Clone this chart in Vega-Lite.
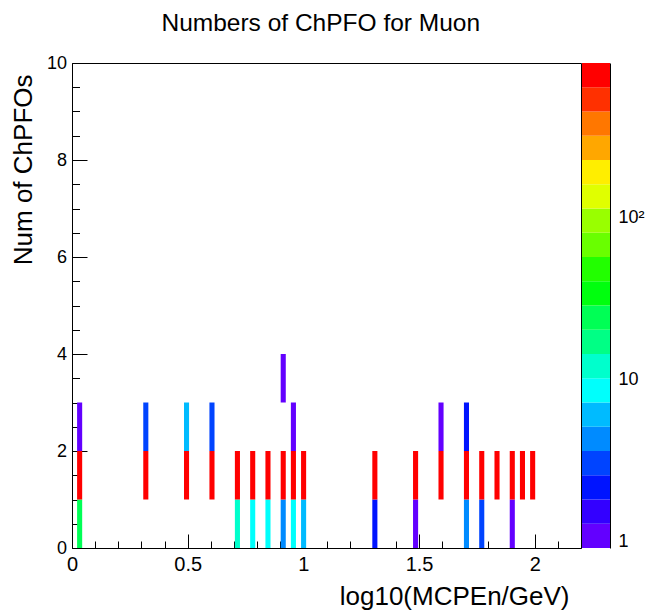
{
  "$schema": "https://vega.github.io/schema/vega-lite/v6.json",
  "padding": {"left": 9, "top": 11, "right": 0, "bottom": 0},
  "background": "white",
  "bounds": "flush",
  "spacing": 1,
  "config": {
    "font": "Liberation Sans",
    "view": {"stroke": "black", "strokeWidth": 1},
    "axis": {"grid": false, "domainColor": "black", "tickColor": "black", "labelColor": "black", "titleColor": "black", "labelFont": "Liberation Sans", "titleFont": "Liberation Sans", "titleFontWeight": "normal", "zindex": 1, "labelFlush": false, "labelOverlap": false}
  },
  "title": {"text": "Numbers of ChPFO for Muon", "font": "Liberation Sans", "fontSize": 24.5, "fontWeight": "normal", "color": "black", "anchor": "middle", "offset": 17, "dx": -6},
  "datasets": {
    "cells": [
      {"xlo": 0.022, "xhi": 0.044, "ylo": 0, "yhi": 1, "count": 22},
      {"xlo": 0.022, "xhi": 0.044, "ylo": 1, "yhi": 2, "count": 760},
      {"xlo": 0.022, "xhi": 0.044, "ylo": 2, "yhi": 3, "count": 1},
      {"xlo": 0.308, "xhi": 0.330, "ylo": 1, "yhi": 2, "count": 720},
      {"xlo": 0.308, "xhi": 0.330, "ylo": 2, "yhi": 3, "count": 3},
      {"xlo": 0.484, "xhi": 0.506, "ylo": 1, "yhi": 2, "count": 740},
      {"xlo": 0.484, "xhi": 0.506, "ylo": 2, "yhi": 3, "count": 6},
      {"xlo": 0.594, "xhi": 0.616, "ylo": 1, "yhi": 2, "count": 700},
      {"xlo": 0.594, "xhi": 0.616, "ylo": 2, "yhi": 3, "count": 3},
      {"xlo": 0.704, "xhi": 0.726, "ylo": 0, "yhi": 1, "count": 12},
      {"xlo": 0.704, "xhi": 0.726, "ylo": 1, "yhi": 2, "count": 780},
      {"xlo": 0.770, "xhi": 0.792, "ylo": 0, "yhi": 1, "count": 9},
      {"xlo": 0.770, "xhi": 0.792, "ylo": 1, "yhi": 2, "count": 800},
      {"xlo": 0.836, "xhi": 0.858, "ylo": 0, "yhi": 1, "count": 9},
      {"xlo": 0.836, "xhi": 0.858, "ylo": 1, "yhi": 2, "count": 790},
      {"xlo": 0.902, "xhi": 0.924, "ylo": 0, "yhi": 1, "count": 4},
      {"xlo": 0.902, "xhi": 0.924, "ylo": 1, "yhi": 2, "count": 770},
      {"xlo": 0.902, "xhi": 0.924, "ylo": 3, "yhi": 4, "count": 1},
      {"xlo": 0.946, "xhi": 0.968, "ylo": 0, "yhi": 1, "count": 8},
      {"xlo": 0.946, "xhi": 0.968, "ylo": 1, "yhi": 2, "count": 810},
      {"xlo": 0.946, "xhi": 0.968, "ylo": 2, "yhi": 3, "count": 1},
      {"xlo": 0.990, "xhi": 1.012, "ylo": 0, "yhi": 1, "count": 6},
      {"xlo": 0.990, "xhi": 1.012, "ylo": 1, "yhi": 2, "count": 750},
      {"xlo": 1.298, "xhi": 1.320, "ylo": 0, "yhi": 1, "count": 2},
      {"xlo": 1.298, "xhi": 1.320, "ylo": 1, "yhi": 2, "count": 730},
      {"xlo": 1.474, "xhi": 1.496, "ylo": 0, "yhi": 1, "count": 1},
      {"xlo": 1.474, "xhi": 1.496, "ylo": 1, "yhi": 2, "count": 690},
      {"xlo": 1.584, "xhi": 1.606, "ylo": 1, "yhi": 2, "count": 710},
      {"xlo": 1.584, "xhi": 1.606, "ylo": 2, "yhi": 3, "count": 1},
      {"xlo": 1.694, "xhi": 1.716, "ylo": 0, "yhi": 1, "count": 4},
      {"xlo": 1.694, "xhi": 1.716, "ylo": 1, "yhi": 2, "count": 760},
      {"xlo": 1.694, "xhi": 1.716, "ylo": 2, "yhi": 3, "count": 2},
      {"xlo": 1.760, "xhi": 1.782, "ylo": 0, "yhi": 1, "count": 3},
      {"xlo": 1.760, "xhi": 1.782, "ylo": 1, "yhi": 2, "count": 720},
      {"xlo": 1.826, "xhi": 1.848, "ylo": 1, "yhi": 2, "count": 680},
      {"xlo": 1.892, "xhi": 1.914, "ylo": 0, "yhi": 1, "count": 1},
      {"xlo": 1.892, "xhi": 1.914, "ylo": 1, "yhi": 2, "count": 700},
      {"xlo": 1.936, "xhi": 1.958, "ylo": 1, "yhi": 2, "count": 670},
      {"xlo": 1.980, "xhi": 2.002, "ylo": 1, "yhi": 2, "count": 650}
    ],
    "bands": [
      {"lo": 0.909, "hi": 1.2827, "mid": 1.08},
      {"lo": 1.2827, "hi": 1.810, "mid": 1.52},
      {"lo": 1.810, "hi": 2.554, "mid": 2.15},
      {"lo": 2.554, "hi": 3.604, "mid": 3.03},
      {"lo": 3.604, "hi": 5.086, "mid": 4.28},
      {"lo": 5.086, "hi": 7.177, "mid": 6.04},
      {"lo": 7.177, "hi": 10.13, "mid": 8.53},
      {"lo": 10.13, "hi": 14.29, "mid": 12.0},
      {"lo": 14.29, "hi": 20.17, "mid": 17.0},
      {"lo": 20.17, "hi": 28.46, "mid": 24.0},
      {"lo": 28.46, "hi": 40.16, "mid": 33.8},
      {"lo": 40.16, "hi": 56.67, "mid": 47.7},
      {"lo": 56.67, "hi": 79.97, "mid": 67.3},
      {"lo": 79.97, "hi": 112.8, "mid": 95.0},
      {"lo": 112.8, "hi": 159.2, "mid": 134},
      {"lo": 159.2, "hi": 224.7, "mid": 189},
      {"lo": 224.7, "hi": 317.1, "mid": 267},
      {"lo": 317.1, "hi": 447.4, "mid": 377},
      {"lo": 447.4, "hi": 631.4, "mid": 532},
      {"lo": 631.4, "hi": 891, "mid": 750}
    ]
  },
  "resolve": {"scale": {"color": "independent"}},
  "hconcat": [
    {
      "width": 509,
      "height": 485,
      "data": {"name": "cells"},
      "mark": {"type": "rect"},
      "encoding": {
        "x": {
          "field": "xlo", "type": "quantitative",
          "scale": {"domain": [0, 2.2], "nice": false, "zero": false},
          "axis": {
            "values": [0, 0.1, 0.2, 0.3, 0.4, 0.5, 0.6, 0.7, 0.8, 0.9, 1, 1.1, 1.2, 1.3, 1.4, 1.5, 1.6, 1.7, 1.8, 1.9, 2, 2.1],
            "labelExpr": "abs(datum.value*2 - round(datum.value*2)) < 0.001 ? format(datum.value, '~g') : ''",
            "tickSize": {"condition": {"test": "abs(datum.value*2 - round(datum.value*2)) < 0.001", "value": -14}, "value": -7},
            "labelPadding": 20.5,
            "labelFontSize": 20,
            "title": "log10(MCPEn/GeV)",
            "titleFontSize": 26,
            "titleAlign": "right",
            "titleAnchor": "end",
            "titleBaseline": "alphabetic",
            "titleX": 497,
            "titleY": 56
          }
        },
        "x2": {"field": "xhi"},
        "y": {
          "field": "ylo", "type": "quantitative",
          "scale": {"domain": [0, 10], "nice": false},
          "axis": {
            "values": [0, 0.5, 1, 1.5, 2, 2.5, 3, 3.5, 4, 4.5, 5, 5.5, 6, 6.5, 7, 7.5, 8, 8.5, 9, 9.5, 10],
            "labelExpr": "datum.value % 2 === 0 ? format(datum.value, '~g') : ''",
            "tickSize": {"condition": {"test": "datum.value % 2 === 0", "value": -15}, "value": -7.5},
            "labelPadding": 20.5,
            "labelFontSize": 18,
            "title": "Num of ChPFOs",
            "titleFontSize": 26,
            "titleAngle": 270,
            "titleAlign": "right",
            "titleBaseline": "alphabetic",
            "titleX": -41,
            "titleY": 11
          }
        },
        "y2": {"field": "yhi"},
        "color": {
          "field": "count", "type": "quantitative",
          "scale": {
            "type": "threshold",
            "domain": [1.2827, 1.810, 2.554, 3.604, 5.086, 7.177, 10.13, 14.29, 20.17, 28.46, 40.16, 56.67, 79.97, 112.8, 159.2, 224.7, 317.1, 447.4, 631.4],
            "range": ["#6300ff", "#3300ff", "#0014ff", "#0044ff", "#008bff", "#00bbff", "#00fffc", "#00ffcc", "#00ff85", "#00ff55", "#00ff0e", "#22ff00", "#69ff00", "#99ff00", "#e0ff00", "#ffee00", "#ffa700", "#ff7700", "#ff3000", "#ff0000"]
          },
          "legend": null
        }
      }
    },
    {
      "width": 28,
      "height": 485,
      "view": {"stroke": null},
      "data": {"name": "bands"},
      "mark": {"type": "rect"},
      "encoding": {
        "x": {"datum": 0, "type": "quantitative", "scale": {"domain": [0, 1], "nice": false}, "axis": null},
        "x2": {"datum": 1},
        "y": {
          "field": "lo", "type": "quantitative",
          "scale": {"type": "log", "domain": [0.909, 891], "nice": false},
          "axis": {
            "orient": "right",
            "values": [1, 2, 3, 4, 5, 6, 7, 8, 9, 10, 20, 30, 40, 50, 60, 70, 80, 90, 100, 200, 300, 400, 500, 600, 700, 800],
            "labelExpr": "datum.value == 1 ? '1' : datum.value == 10 ? '10' : datum.value == 100 ? '10²' : ''",
            "tickSize": {"condition": {"test": "datum.value == 1 || datum.value == 10 || datum.value == 100", "value": -14}, "value": -6},
            "labelPadding": 22,
            "labelFontSize": 18,
            "title": null
          }
        },
        "y2": {"field": "hi"},
        "color": {
          "field": "mid", "type": "quantitative",
          "scale": {
            "type": "threshold",
            "domain": [1.2827, 1.810, 2.554, 3.604, 5.086, 7.177, 10.13, 14.29, 20.17, 28.46, 40.16, 56.67, 79.97, 112.8, 159.2, 224.7, 317.1, 447.4, 631.4],
            "range": ["#6300ff", "#3300ff", "#0014ff", "#0044ff", "#008bff", "#00bbff", "#00fffc", "#00ffcc", "#00ff85", "#00ff55", "#00ff0e", "#22ff00", "#69ff00", "#99ff00", "#e0ff00", "#ffee00", "#ffa700", "#ff7700", "#ff3000", "#ff0000"]
          },
          "legend": null
        }
      }
    }
  ]
}
